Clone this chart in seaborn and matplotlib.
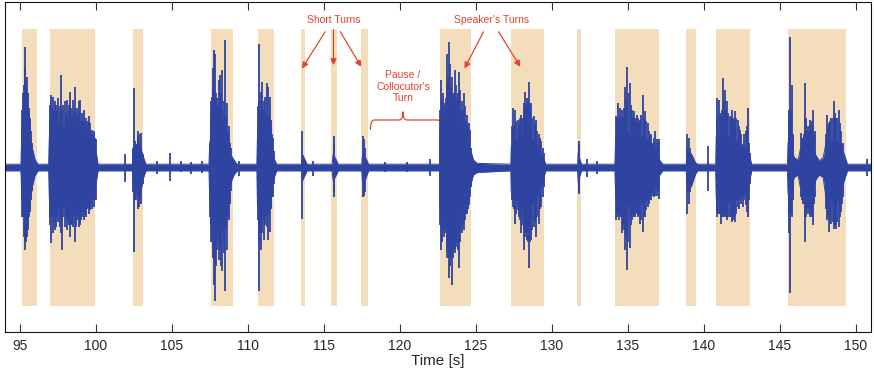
import numpy as np
import pandas as pd
import matplotlib
matplotlib.use("Agg")
import matplotlib.pyplot as plt
import seaborn as sns
from matplotlib.path import Path
from matplotlib.patches import PathPatch

# ---------------- data ----------------
# annotated turn intervals [s]
turn_start = [95.14, 96.99, 102.42, 107.60, 110.65, 113.50, 115.47, 117.47,
              122.66, 127.34, 131.68, 134.18, 138.85, 140.78, 145.51]
turn_end = [96.13, 99.97, 103.13, 109.03, 111.74, 113.80, 115.89, 117.88,
            124.68, 129.49, 131.94, 137.07, 139.50, 143.01, 149.37]

# dense core of the waveform (time, upper, lower)
env_t = [94.0, 95.08, 95.13, 95.25, 95.40, 95.55, 95.70, 95.85, 96.0, 96.2,
         96.9, 96.95, 97.1, 97.4, 97.7, 98.0, 98.3, 98.6, 98.9, 99.2, 99.5, 99.8, 100.05, 100.15,
         102.42, 102.47, 102.7, 102.95, 103.15, 103.3,
         107.45, 107.50, 107.7, 107.9, 108.2, 108.5, 108.8, 109.1, 109.3,
         110.6, 110.64, 110.8, 111.1, 111.4, 111.7, 111.9,
         113.55, 113.6, 113.75, 113.9,
         115.55, 115.62, 115.8, 115.95,
         117.5, 117.55, 117.75, 117.95,
         122.62, 122.66, 122.9, 123.2, 123.5, 123.8, 124.1, 124.4, 124.65, 124.85, 125.1,
         127.3, 127.34, 127.6, 127.9, 128.2, 128.5, 128.8, 129.1, 129.4, 129.6,
         131.7, 131.74, 131.85, 131.95,
         134.15, 134.2, 134.5, 134.9, 135.3, 135.7, 136.1, 136.5, 136.9, 137.1, 137.3,
         138.85, 138.9, 139.2, 139.45, 139.6,
         140.78, 140.82, 141.1, 141.5, 141.9, 142.3, 142.7, 142.95, 143.15,
         145.50, 145.54, 145.75, 145.95, 146.2, 146.35, 146.7, 147.1, 147.4, 147.6,
         147.85, 148.05, 148.5, 148.9, 149.2, 149.45, 151.0]
env_top = [0.02, 0.02, 0.18, 0.30, 0.31, 0.26, 0.19, 0.11, 0.05, 0.02,
           0.02, 0.19, 0.25, 0.24, 0.26, 0.24, 0.25, 0.23, 0.21, 0.19, 0.16, 0.13, 0.08, 0.02,
           0.02, 0.12, 0.13, 0.12, 0.06, 0.02,
           0.02, 0.15, 0.23, 0.22, 0.19, 0.15, 0.09, 0.045, 0.02,
           0.02, 0.19, 0.20, 0.16, 0.13, 0.06, 0.02,
           0.02, 0.08, 0.05, 0.02,
           0.02, 0.08, 0.05, 0.02,
           0.02, 0.08, 0.06, 0.02,
           0.02, 0.23, 0.26, 0.28, 0.27, 0.25, 0.21, 0.16, 0.11, 0.045, 0.025,
           0.02, 0.13, 0.16, 0.19, 0.21, 0.19, 0.16, 0.13, 0.07, 0.02,
           0.02, 0.09, 0.05, 0.02,
           0.02, 0.16, 0.19, 0.21, 0.19, 0.19, 0.18, 0.15, 0.11, 0.045, 0.02,
           0.02, 0.11, 0.08, 0.03, 0.02,
           0.02, 0.19, 0.21, 0.19, 0.18, 0.15, 0.13, 0.09, 0.02,
           0.02, 0.15, 0.13, 0.06, 0.045, 0.11, 0.14, 0.12, 0.07, 0.04,
           0.06, 0.15, 0.16, 0.15, 0.09, 0.02, 0.02]
env_bot = [-0.02, -0.02, -0.16, -0.27, -0.30, -0.24, -0.19, -0.11, -0.05, -0.02,
           -0.02, -0.19, -0.24, -0.23, -0.25, -0.23, -0.24, -0.23, -0.21, -0.19, -0.16, -0.13, -0.08, -0.02,
           -0.02, -0.13, -0.15, -0.15, -0.06, -0.02,
           -0.02, -0.19, -0.30, -0.30, -0.26, -0.22, -0.11, -0.045, -0.02,
           -0.02, -0.22, -0.22, -0.19, -0.15, -0.07, -0.02,
           -0.02, -0.08, -0.05, -0.02,
           -0.02, -0.08, -0.05, -0.02,
           -0.02, -0.09, -0.07, -0.02,
           -0.02, -0.23, -0.30, -0.31, -0.31, -0.28, -0.24, -0.19, -0.11, -0.045, -0.03,
           -0.02, -0.15, -0.19, -0.22, -0.26, -0.24, -0.20, -0.16, -0.09, -0.02,
           -0.02, -0.09, -0.05, -0.02,
           -0.02, -0.16, -0.21, -0.24, -0.22, -0.21, -0.21, -0.16, -0.11, -0.045, -0.02,
           -0.02, -0.15, -0.11, -0.04, -0.02,
           -0.02, -0.19, -0.21, -0.21, -0.21, -0.19, -0.16, -0.11, -0.02,
           -0.02, -0.16, -0.13, -0.06, -0.045, -0.12, -0.15, -0.14, -0.07, -0.045,
           -0.06, -0.19, -0.21, -0.19, -0.09, -0.02, -0.02]

# major peaks of the waveform (time, upper, lower)
spike_t = [95.22, 95.32, 95.37, 95.42, 95.48, 95.55, 95.62, 95.70,
           96.98, 97.05, 97.18, 97.30, 97.42, 97.55, 97.73, 97.80, 97.95, 98.10, 98.22, 98.32,
           98.40, 98.50, 98.65, 98.78, 98.88, 98.98, 99.10, 99.20, 99.35, 99.53, 99.65, 99.75,
           99.90, 100.05,
           101.9, 104.0, 104.9, 105.6, 106.3, 107.0, 109.45,
           102.53, 102.6, 102.75, 102.85, 102.95,
           107.52, 107.60, 107.64, 107.70, 107.77, 107.86, 107.92, 107.99, 108.08, 108.19,
           108.25, 108.30, 108.41, 108.47, 108.52, 108.63, 108.74, 108.85,
           110.68, 110.75, 110.85, 110.95, 111.04, 111.12, 111.24, 111.35, 111.45, 111.55, 111.65,
           113.60, 114.3, 115.65, 115.70, 117.60, 117.65, 117.70,
           119.0, 120.5, 121.96,
           122.70, 122.88, 122.99, 123.08, 123.14, 123.21, 123.32, 123.40, 123.47, 123.54,
           123.63, 123.72, 123.82, 123.87, 123.98, 124.09, 124.20, 124.31, 124.42, 124.53, 124.64,
           127.45, 127.60, 127.78, 127.99, 128.15, 128.26, 128.37, 128.48, 128.65, 128.81,
           128.96, 129.14, 129.32, 129.47,
           131.76, 131.80, 132.3, 133.0,
           134.22, 134.38, 134.50, 134.62, 134.80, 134.95, 135.12, 135.28, 135.39, 135.61,
           135.82, 135.99, 136.15, 136.30, 136.48, 136.65, 136.81, 137.03,
           138.92, 139.00, 139.10, 140.27,
           140.86, 140.97, 141.12, 141.26, 141.37, 141.52, 141.70, 141.85, 142.07, 142.22,
           142.40, 142.58, 142.91, 143.02,
           145.58, 145.67, 145.80, 145.90, 146.39, 146.50, 146.68, 146.80, 146.96, 147.18,
           147.32, 148.10, 148.25, 148.40, 148.54, 148.71, 148.87, 149.08, 150.74]
spike_top = [0.45, 0.73, 0.60, 0.50, 0.55, 0.45, 0.36, 0.30,
             0.38, 0.44, 0.43, 0.40, 0.38, 0.42, 0.56, 0.35, 0.40, 0.41, 0.38, 0.46,
             0.36, 0.41, 0.49, 0.36, 0.40, 0.41, 0.33, 0.35, 0.30, 0.31, 0.27, 0.23,
             0.22, 0.17,
             0.08, 0.04, 0.09, 0.04, 0.035, 0.04, 0.04,
             0.48, 0.12, 0.22, 0.20, 0.21,
             0.15, 0.40, 0.43, 0.60, 0.71, 0.69, 0.45, 0.42, 0.53, 0.56,
             0.45, 0.59, 0.40, 0.35, 0.77, 0.39, 0.25, 0.15,
             0.37, 0.75, 0.46, 0.52, 0.40, 0.43, 0.51, 0.49, 0.43, 0.29, 0.18,
             0.22, 0.04, 0.19, 0.15, 0.19, 0.17, 0.12,
             0.035, 0.035, 0.05,
             0.53, 0.37, 0.39, 0.45, 0.69, 0.76, 0.63, 0.49, 0.55, 0.43,
             0.59, 0.50, 0.45, 0.58, 0.47, 0.40, 0.45, 0.37, 0.32, 0.27, 0.23,
             0.36, 0.35, 0.29, 0.32, 0.39, 0.46, 0.42, 0.52, 0.39, 0.31,
             0.29, 0.20, 0.16, 0.09,
             0.16, 0.14, 0.05, 0.04,
             0.31, 0.39, 0.36, 0.35, 0.49, 0.61, 0.51, 0.35, 0.34, 0.32,
             0.29, 0.44, 0.34, 0.27, 0.19, 0.15, 0.22, 0.17,
             0.20, 0.18, 0.12, 0.13,
             0.42, 0.41, 0.31, 0.54, 0.47, 0.40, 0.31, 0.35, 0.34, 0.29,
             0.23, 0.13, 0.36, 0.09,
             0.35, 0.79, 0.50, 0.19, 0.21, 0.18, 0.51, 0.22, 0.29, 0.35,
             0.22, 0.32, 0.27, 0.30, 0.40, 0.30, 0.35, 0.14, 0.05]
spike_bot = [-0.30, -0.50, -0.45, -0.38, -0.42, -0.35, -0.30, -0.25,
             -0.35, -0.46, -0.40, -0.38, -0.36, -0.33, -0.40, -0.50, -0.36, -0.38, -0.35, -0.42,
             -0.34, -0.36, -0.45, -0.32, -0.36, -0.35, -0.30, -0.32, -0.30, -0.28, -0.26, -0.25,
             -0.24, -0.20,
             -0.09, -0.04, -0.08, -0.03, -0.04, -0.035, -0.05,
             -0.51, -0.20, -0.25, -0.24, -0.22,
             -0.30, -0.45, -0.34, -0.55, -0.71, -0.81, -0.60, -0.50, -0.56, -0.50,
             -0.60, -0.63, -0.52, -0.45, -0.75, -0.50, -0.32, -0.22,
             -0.32, -0.75, -0.50, -0.40, -0.44, -0.35, -0.36, -0.44, -0.39, -0.24, -0.18,
             -0.31, -0.05, -0.18, -0.15, -0.18, -0.17, -0.15,
             -0.03, -0.03, -0.05,
             -0.50, -0.32, -0.40, -0.44, -0.55, -0.67, -0.60, -0.55, -0.71, -0.50,
             -0.52, -0.42, -0.50, -0.61, -0.45, -0.40, -0.38, -0.32, -0.28, -0.23, -0.18,
             -0.24, -0.34, -0.26, -0.40, -0.50, -0.42, -0.44, -0.61, -0.44, -0.36,
             -0.42, -0.34, -0.24, -0.12,
             -0.16, -0.15, -0.06, -0.04,
             -0.32, -0.28, -0.30, -0.40, -0.50, -0.62, -0.49, -0.32, -0.30, -0.28,
             -0.34, -0.39, -0.30, -0.24, -0.20, -0.17, -0.17, -0.19,
             -0.28, -0.22, -0.15, -0.14,
             -0.30, -0.28, -0.34, -0.30, -0.29, -0.32, -0.30, -0.33, -0.33, -0.24,
             -0.20, -0.24, -0.30, -0.10,
             -0.40, -0.76, -0.30, -0.15, -0.18, -0.22, -0.45, -0.25, -0.30, -0.35,
             -0.18, -0.32, -0.39, -0.34, -0.37, -0.37, -0.36, -0.22, -0.05]

# smaller peaks filling the bursts (time, upper, lower)
minor_t = [95.15, 95.18, 95.27, 95.35, 95.40, 95.45, 95.52, 95.58, 95.66, 95.75, 95.82,
           97.00, 97.10, 97.24, 97.36, 97.48, 97.62, 97.68, 97.86, 98.02, 98.16, 98.27,
           98.45, 98.56, 98.72, 98.83, 98.93, 99.04, 99.15, 99.27, 99.42, 99.48, 99.59,
           99.70, 99.82, 99.96,
           102.48, 102.58, 102.68, 102.80, 102.90, 103.00, 103.08,
           107.56, 107.67, 107.73, 107.81, 107.89, 107.96, 108.03, 108.13, 108.22, 108.35,
           108.44, 108.57, 108.68, 108.79, 108.92,
           110.65, 110.72, 110.80, 110.90, 111.00, 111.08, 111.18, 111.30, 111.40, 111.50,
           111.60, 111.72,
           122.67, 122.75, 122.82, 122.93, 123.03, 123.11, 123.18, 123.25, 123.29, 123.36,
           123.44, 123.51, 123.58, 123.67, 123.77, 123.92, 124.03, 124.14, 124.25, 124.36,
           124.48, 124.58, 124.70,
           127.38, 127.52, 127.68, 127.85, 127.92, 128.06, 128.20, 128.31, 128.42, 128.55,
           128.60, 128.72, 128.88, 129.05, 129.22, 129.40,
           134.26, 134.32, 134.44, 134.56, 134.68, 134.74, 134.87, 135.02, 135.20, 135.34,
           135.47, 135.54, 135.68, 135.75, 135.90, 136.07, 136.22, 136.38, 136.56, 136.73,
           136.90, 136.97,
           140.90, 141.04, 141.18, 141.31, 141.44, 141.60, 141.78, 141.92, 142.00, 142.14,
           142.30, 142.48, 142.66, 142.75, 142.84, 142.96,
           145.62, 145.72, 145.85, 146.44, 146.58, 146.63, 146.73, 146.86, 146.90, 147.05,
           147.12, 147.25, 148.02, 148.16, 148.30, 148.47, 148.60, 148.66, 148.78, 148.93,
           149.00, 149.15]
minor_top = [0.25, 0.35, 0.50, 0.60, 0.42, 0.40, 0.38, 0.33, 0.28, 0.22, 0.15,
             0.30, 0.36, 0.34, 0.31, 0.35, 0.37, 0.32, 0.38, 0.33, 0.30, 0.34,
             0.32, 0.35, 0.33, 0.30, 0.33, 0.28, 0.30, 0.28, 0.26, 0.28, 0.24,
             0.22, 0.20, 0.18,
             0.12, 0.16, 0.14, 0.18, 0.15, 0.12, 0.08,
             0.30, 0.38, 0.50, 0.40, 0.35, 0.30, 0.38, 0.35, 0.40, 0.30,
             0.25, 0.30, 0.22, 0.18, 0.12,
             0.25, 0.40, 0.35, 0.30, 0.35, 0.30, 0.33, 0.30, 0.32, 0.25,
             0.20, 0.10,
             0.35, 0.40, 0.45, 0.35, 0.42, 0.50, 0.55, 0.50, 0.45, 0.42,
             0.45, 0.40, 0.45, 0.40, 0.42, 0.40, 0.35, 0.35, 0.30, 0.28,
             0.25, 0.20, 0.12,
             0.25, 0.25, 0.28, 0.26, 0.30, 0.30, 0.35, 0.38, 0.40, 0.38,
             0.33, 0.30, 0.27, 0.22, 0.18, 0.12,
             0.25, 0.30, 0.30, 0.32, 0.30, 0.36, 0.40, 0.45, 0.38, 0.30,
             0.30, 0.28, 0.30, 0.27, 0.32, 0.30, 0.28, 0.22, 0.20, 0.18,
             0.17, 0.15,
             0.30, 0.33, 0.35, 0.40, 0.35, 0.33, 0.30, 0.30, 0.28, 0.30,
             0.25, 0.20, 0.20, 0.22, 0.25, 0.15,
             0.30, 0.35, 0.20, 0.18, 0.20, 0.30, 0.30, 0.25, 0.22, 0.25,
             0.28, 0.20, 0.20, 0.25, 0.28, 0.30, 0.33, 0.28, 0.30, 0.27,
             0.22, 0.15]
minor_bot = [-0.20, -0.30, -0.42, -0.35, -0.45, -0.33, -0.38, -0.28, -0.27, -0.20, -0.14,
             -0.30, -0.30, -0.33, -0.28, -0.30, -0.31, -0.36, -0.30, -0.31, -0.33, -0.28,
             -0.35, -0.30, -0.36, -0.28, -0.30, -0.32, -0.27, -0.28, -0.25, -0.24, -0.24,
             -0.22, -0.20, -0.20,
             -0.15, -0.18, -0.20, -0.17, -0.20, -0.14, -0.10,
             -0.35, -0.45, -0.50, -0.55, -0.45, -0.40, -0.42, -0.45, -0.40, -0.38,
             -0.35, -0.38, -0.30, -0.22, -0.14,
             -0.25, -0.45, -0.40, -0.35, -0.30, -0.32, -0.30, -0.30, -0.28, -0.25,
             -0.18, -0.10,
             -0.35, -0.45, -0.38, -0.42, -0.38, -0.50, -0.48, -0.55, -0.50, -0.50,
             -0.45, -0.55, -0.42, -0.48, -0.45, -0.40, -0.38, -0.35, -0.32, -0.28,
             -0.25, -0.20, -0.12,
             -0.20, -0.25, -0.28, -0.30, -0.32, -0.35, -0.38, -0.40, -0.45, -0.40,
             -0.45, -0.38, -0.33, -0.30, -0.25, -0.18,
             -0.25, -0.30, -0.32, -0.30, -0.35, -0.38, -0.42, -0.45, -0.35, -0.28,
             -0.30, -0.27, -0.30, -0.29, -0.32, -0.30, -0.26, -0.22, -0.20, -0.18,
             -0.17, -0.15,
             -0.27, -0.28, -0.30, -0.30, -0.30, -0.30, -0.30, -0.32, -0.30, -0.28,
             -0.25, -0.22, -0.20, -0.23, -0.27, -0.20,
             -0.30, -0.28, -0.20, -0.20, -0.22, -0.30, -0.30, -0.28, -0.25, -0.28,
             -0.30, -0.22, -0.25, -0.30, -0.33, -0.33, -0.35, -0.30, -0.33, -0.30,
             -0.27, -0.18]

x_ticks = [95, 100, 105, 110, 115, 120, 125, 130, 135, 140, 145, 150]

# ---------------- style ----------------
sns.set_theme(style="white")
plt.rcParams["font.family"] = ["Liberation Sans", "DejaVu Sans"]

WAVE = "#2F44A0"
SHADE = "#F3DDBB"
RED = "#E5432B"

fig = plt.figure(figsize=(8.74, 3.72), dpi=100)
ax = fig.add_axes([0.00515, 0.1062, 0.99142, 0.8871])

# turn shading
for s, e in zip(turn_start, turn_end):
    ax.axvspan(s, e, ymin=0.08, ymax=0.92, color=SHADE, lw=0, zorder=0)

# waveform core
env = pd.DataFrame({"t": env_t, "top": env_top, "bot": env_bot})
ax.fill_between(env["t"], env["bot"], env["top"], color=WAVE, lw=0, zorder=2)
sns.lineplot(data=env, x="t", y="top", color=WAVE, lw=0.7, ax=ax, zorder=2)
sns.lineplot(data=env, x="t", y="bot", color=WAVE, lw=0.7, ax=ax, zorder=2)

# waveform peaks
ax.vlines(minor_t, minor_bot, minor_top, color=WAVE, lw=1.3, zorder=3)
ax.vlines(spike_t, spike_bot, spike_top, color=WAVE, lw=1.3, zorder=3)

# axes
ax.set_xlim(94.0, 151.0)
ax.set_ylim(-1, 1)
ax.set_xticks(x_ticks)
ax.set_xticklabels([str(v) for v in x_ticks])
ax.set_yticks([])
ax.set_xlabel("Time [s]", fontsize=11, labelpad=1)
ax.set_ylabel("")
ax.tick_params(axis="x", direction="in", top=True, bottom=True, length=5.5,
               width=0.8, color="#333333", labelsize=10, pad=4.5)
for sp in ax.spines.values():
    sp.set_visible(True)
    sp.set_color("#111111")
    sp.set_linewidth(0.8)

# annotations
ax.text(115.63, 0.894, "Short Turns", color=RED, fontsize=7.5,
        ha="center", va="center")
ax.text(126.07, 0.894, "Speaker's Turns", color=RED, fontsize=7.5,
        ha="center", va="center")
ax.text(120.21, 0.49, "Pause /\nCollocutor's\nTurn", color=RED, fontsize=7.5,
        ha="center", va="center", linespacing=1.15)

arrows = [((115.10, 0.823), (113.57, 0.60)),
          ((115.64, 0.833), (115.64, 0.62)),
          ((116.09, 0.823), (117.47, 0.61)),
          ((125.51, 0.823), (124.26, 0.60)),
          ((126.50, 0.823), (127.93, 0.61))]
for (xa, ya), (xb, yb_) in arrows:
    ax.annotate("", xy=(xb, yb_), xytext=(xa, ya),
                arrowprops=dict(arrowstyle="-|>", color=RED, lw=0.9,
                                mutation_scale=9, shrinkA=0, shrinkB=0))

# curly brace over the pause
x0, x1, xm = 118.07, 122.74, 120.21
yb, yh, yt = 0.227, 0.288, 0.338
verts = [(x0, yb), (x0, yh), (x0 + 0.25, yh),
         (xm - 0.25, yh), (xm, yh), (xm, yt),
         (xm, yh), (xm + 0.25, yh),
         (x1 - 0.25, yh), (x1, yh), (x1, yb)]
codes = [Path.MOVETO, Path.CURVE3, Path.CURVE3,
         Path.LINETO, Path.CURVE3, Path.CURVE3,
         Path.CURVE3, Path.CURVE3,
         Path.LINETO, Path.CURVE3, Path.CURVE3]
ax.add_patch(PathPatch(Path(verts, codes), fill=False, edgecolor=RED, lw=0.9))

fig.savefig("out.png", dpi=100)
